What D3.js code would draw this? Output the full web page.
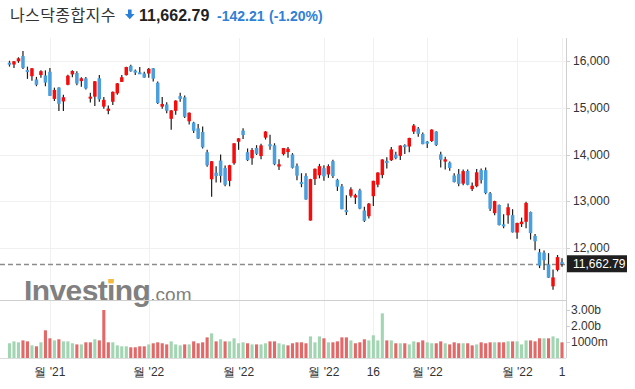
<!DOCTYPE html>
<html>
<head>
<meta charset="utf-8">
<script src="https://cdn.jsdelivr.net/npm/d3@7"></script>
<style>
  body { margin: 0; background: #fff; }
  svg { display: block; font-family: Arial, "Liberation Sans", sans-serif; }
</style>
</head>
<body>
<svg width="635" height="389"></svg>
<script>
// daily NASDAQ composite, 2021-11-17 .. 2022-05-16
const dates = [
  "2021-11-17","2021-11-18","2021-11-19","2021-11-22","2021-11-23","2021-11-24","2021-11-26","2021-11-29","2021-11-30",
  "2021-12-01","2021-12-02","2021-12-03","2021-12-06","2021-12-07","2021-12-08","2021-12-09","2021-12-10","2021-12-13","2021-12-14",
  "2021-12-15","2021-12-16","2021-12-17","2021-12-20","2021-12-21","2021-12-22","2021-12-23","2021-12-27","2021-12-28","2021-12-29",
  "2021-12-30","2021-12-31",
  "2022-01-03","2022-01-04","2022-01-05","2022-01-06","2022-01-07","2022-01-10","2022-01-11","2022-01-12","2022-01-13","2022-01-14",
  "2022-01-18","2022-01-19","2022-01-20","2022-01-21","2022-01-24","2022-01-25","2022-01-26","2022-01-27","2022-01-28","2022-01-31",
  "2022-02-01","2022-02-02","2022-02-03","2022-02-04","2022-02-07","2022-02-08","2022-02-09","2022-02-10","2022-02-11","2022-02-14",
  "2022-02-15","2022-02-16","2022-02-17","2022-02-18","2022-02-22","2022-02-23","2022-02-24","2022-02-25","2022-02-28",
  "2022-03-01","2022-03-02","2022-03-03","2022-03-04","2022-03-07","2022-03-08","2022-03-09","2022-03-10","2022-03-11","2022-03-14",
  "2022-03-15","2022-03-16","2022-03-17","2022-03-18","2022-03-21","2022-03-22","2022-03-23","2022-03-24","2022-03-25","2022-03-28",
  "2022-03-29","2022-03-30","2022-03-31",
  "2022-04-01","2022-04-04","2022-04-05","2022-04-06","2022-04-07","2022-04-08","2022-04-11","2022-04-12","2022-04-13","2022-04-14",
  "2022-04-18","2022-04-19","2022-04-20","2022-04-21","2022-04-22","2022-04-25","2022-04-26","2022-04-27","2022-04-28","2022-04-29",
  "2022-05-02","2022-05-03","2022-05-04","2022-05-05","2022-05-06","2022-05-09","2022-05-10","2022-05-11","2022-05-12","2022-05-13",
  "2022-05-16"
];
const open = [
  15965,15925,15995,16104,15806,15675,15605,15700,15690,
  15770,15190,15432,15135,15491,15714,15743,15570,15628,15200,
  15237,15629,15024,14934,15128,15308,15553,15697,15896,15794,
  15758,15733,
  15732,15844,15534,15024,15070,14763,14934,15250,15224,14710,
  14682,14559,14480,14048,13470,13610,13871,13710,13436,13812,
  14272,14512,14050,13920,14140,13967,14360,14219,14198,13743,
  14008,14052,14000,13758,13410,13542,12587,13474,13555,
  13708,13573,13858,13458,13320,12810,13118,13079,13233,12803,
  12679,13108,13354,13560,13860,13878,14000,13970,14200,14170,
  14490,14555,14440,
  14275,14289,14490,14003,13848,13827,13549,13586,13377,13647,
  13260,13322,13665,13665,13172,12745,12920,12505,12700,12703,
  12330,12510,12560,12770,12260,11910,11900,11650,11180,11531,
  11700
];
const high = [
  16005,16000,16080,16212,15880,15850,15660,15800,15800,
  15850,15430,15440,15280,15705,15800,15780,15650,15660,15320,
  15570,15700,15230,15050,15350,15530,15700,15875,15920,15820,
  15870,15770,
  15850,15850,15560,15230,15120,14950,15160,15320,15260,14900,
  14700,14650,14600,14100,13860,13750,14002,13765,13780,14240,
  14350,14560,14130,14140,14200,14230,14500,14420,14240,13900,
  14140,14160,14030,13810,13600,13600,13480,13700,13800,
  13770,13790,13890,13480,13370,13131,13300,13160,13270,12880,
  12960,13440,13620,13900,13940,14160,14060,14200,14220,14360,
  14650,14590,14470,
  14290,14540,14500,14060,13950,13850,13600,13690,13680,13680,
  13400,13690,13700,13720,13200,13010,12930,12720,12950,12830,
  12540,12650,12990,12780,12300,11980,11945,11890,11540,11850,
  11780
];
const low = [
  15880,15850,15960,15830,15618,15578,15460,15640,15460,
  15250,15144,14930,14930,15480,15650,15480,15450,15390,15110,
  15040,15130,14980,14860,15060,15280,15550,15690,15770,15700,
  15730,15640,
  15640,15560,15080,14980,14880,14530,14850,15130,14780,14640,
  14460,14330,14130,13740,13094,13400,13400,13320,13320,13780,
  14100,14330,13860,13780,13990,13900,14320,14100,13770,13670,
  13980,13930,13700,13450,13300,13030,12587,13350,13490,
  13440,13500,13500,13220,12830,12707,13080,12940,12830,12555,
  12630,12900,13300,13490,13700,13860,13900,13880,14010,14050,
  14440,14380,14220,
  14140,14270,14180,13720,13680,13650,13400,13320,13340,13340,
  13220,13300,13380,13150,12790,12700,12480,12420,12520,12330,
  12200,12450,12420,12180,11950,11570,11530,11360,11108,11500,
  11600
];
const close = [
  15921,15993,16057,15854,15775,15845,15491,15782,15538,
  15254,15381,15085,15225,15686,15786,15517,15630,15413,15237,
  15566,15180,15169,14981,15341,15522,15653,15871,15781,15766,
  15741,15645,
  15833,15623,15100,15081,14936,14943,15153,15188,14807,14894,
  14507,14341,14155,13769,13856,13540,13542,13353,13771,14240,
  14346,14417,13879,14098,14015,14195,14491,14186,13791,13791,
  14139,14124,13716,13548,13381,13037,13474,13695,13751,
  13533,13752,13538,13313,12830,12796,13255,13130,12843,12581,
  12949,13437,13614,13894,13838,14109,13923,14191,14169,14354,
  14619,14443,14221,
  14262,14532,14204,13888,13897,13711,13411,13372,13644,13351,
  13332,13619,13453,13175,12839,13004,12491,12489,12872,12335,
  12536,12564,12965,12318,12145,11623,11738,11365,11371,11805,
  11662.79
];
// volume, billions
const volume = [
  0.92,1.04,0.98,1.10,1.04,0.79,0.73,0.98,1.73,1.23,1.10,1.17,1.04,1.04,0.92,0.85,0.85,0.98,0.98,1.17,
  1.10,3.00,0.98,0.98,0.79,0.73,0.73,0.67,0.67,0.73,0.73,0.85,0.92,0.98,0.92,0.85,1.04,0.85,0.79,0.85,
  0.85,1.04,0.92,0.98,1.29,1.54,1.04,1.17,1.04,1.04,1.23,0.92,0.98,0.92,0.85,0.85,0.85,0.92,1.04,1.04,
  0.92,0.85,0.79,0.92,0.98,0.98,0.92,1.35,0.98,1.35,1.23,0.98,0.98,1.04,1.29,1.29,1.10,0.92,0.98,1.17,
  1.10,1.42,1.10,2.79,1.10,1.10,0.92,0.92,0.92,0.85,1.04,0.98,1.10,0.98,0.92,0.92,1.04,0.92,0.85,0.98,
  0.92,0.92,0.92,0.79,0.85,0.98,0.92,0.98,0.98,0.98,0.98,1.04,1.04,1.04,0.85,1.10,1.10,1.04,1.23,1.23,
  1.23,1.35,1.23,0.98
];
const priceTicks = [12000, 13000, 14000, 15000, 16000];
const volTicks = [1, 2, 3];
const volTickLabels = ["1000m", "2.00b", "3.00b"];
const xTickDates = ["2021-12-01","2022-01-03","2022-02-01","2022-03-01","2022-03-16","2022-04-01","2022-05-02","2022-05-16"];
const xTickLabels = ["월 '21","월 '22","월 '22","월 '22","16","월 '22","월 '22","1"];
const lastPrice = 11662.79;

const svg = d3.select('svg');
const plotRight = 566;
const paneTop = 38, paneBottom = 300, volBottom = 358;

const x = d3.scaleBand().domain(dates).range([6.75, 564.75]).padding(0.22);
const y = d3.scaleLinear().domain([12000, 16000]).range([248, 61]);
const yv = d3.scaleLinear().domain([0, 3]).range([volBottom, 310]);

const cx = d => x(d) + x.bandwidth() / 2;

// grid
const grid = svg.append('g');
grid.selectAll('.vg').data(xTickDates).enter().append('line')
  .attr('x1', d => Math.round(cx(d)) + 0.5).attr('x2', d => Math.round(cx(d)) + 0.5)
  .attr('y1', paneTop).attr('y2', volBottom)
  .attr('stroke', '#f0f0f0');
grid.selectAll('.hg').data(priceTicks).enter().append('line')
  .attr('x1', 0).attr('x2', plotRight)
  .attr('y1', d => Math.round(y(d)) + 0.5).attr('y2', d => Math.round(y(d)) + 0.5)
  .attr('stroke', '#f0f0f0');

// watermark
const wm = svg.append('text')
  .attr('x', 24).attr('y', 301)
  .attr('fill', '#808080')
  .style('font-family', 'Arial, "Liberation Sans", sans-serif');
wm.append('tspan').text('Investing').attr('font-weight', 'bold').attr('font-size', 30).attr('letter-spacing', -0.6);
wm.append('tspan').text('.com').attr('font-size', 19);
const iExt = wm.node().getExtentOfChar(6);
svg.append('rect')
  .attr('x', iExt.x + iExt.width / 2 - 2.7).attr('y', 279)
  .attr('width', 5.4).attr('height', 4.4)
  .attr('fill', '#f6b93b');

// panes borders
svg.append('line').attr('x1', 0).attr('x2', plotRight).attr('y1', paneBottom + 0.5).attr('y2', paneBottom + 0.5)
  .attr('stroke', '#cfcfcf');
svg.append('line').attr('x1', 0).attr('x2', plotRight).attr('y1', volBottom + 0.5).attr('y2', volBottom + 0.5)
  .attr('stroke', '#dcdcdc');
svg.append('line').attr('x1', plotRight + 0.5).attr('x2', plotRight + 0.5).attr('y1', paneTop).attr('y2', volBottom)
  .attr('stroke', '#cfcfcf');

// last price dashed line
svg.append('line')
  .attr('x1', 0).attr('x2', plotRight)
  .attr('y1', Math.round(y(lastPrice)) + 0.5).attr('y2', Math.round(y(lastPrice)) + 0.5)
  .attr('stroke', '#8c8c8c').attr('stroke-width', 1.5).attr('stroke-dasharray', '5,3');

// candles
const idx = d3.range(dates.length);
const candles = svg.append('g').selectAll('g').data(idx).enter().append('g');
candles.append('line')
  .attr('x1', i => cx(dates[i])).attr('x2', i => cx(dates[i]))
  .attr('y1', i => y(high[i])).attr('y2', i => y(low[i]))
  .attr('stroke', '#1e1e1e').attr('stroke-width', 1.2);
candles.append('rect')
  .attr('x', i => x(dates[i]))
  .attr('width', x.bandwidth())
  .attr('y', i => y(Math.max(open[i], close[i])))
  .attr('height', i => Math.max(2, Math.abs(y(open[i]) - y(close[i]))))
  .attr('fill', i => close[i] >= open[i] ? '#f50d0d' : '#4b9fdc');

// volume
svg.append('g').selectAll('rect').data(idx).enter().append('rect')
  .attr('x', i => x(dates[i]) + 0.2)
  .attr('width', x.bandwidth() - 0.4)
  .attr('y', i => yv(volume[i]))
  .attr('height', i => volBottom - yv(volume[i]))
  .attr('fill', i => (i === 0 || close[i] >= close[i - 1]) ? '#a2d5b2' : '#e36868');

// price axis
const ya = svg.append('g');
ya.selectAll('line').data(priceTicks).enter().append('line')
  .attr('x1', plotRight).attr('x2', plotRight + 4)
  .attr('y1', d => Math.round(y(d)) + 0.5).attr('y2', d => Math.round(y(d)) + 0.5)
  .attr('stroke', '#cfcfcf');
ya.selectAll('text').data(priceTicks).enter().append('text')
  .attr('x', 573).attr('y', d => y(d)).attr('dy', '0.35em')
  .attr('font-size', 12).attr('fill', '#333')
  .text(d => d3.format(',')(d));

// last price tag
svg.append('rect').attr('x', 567).attr('y', y(lastPrice) - 8.5).attr('width', 60).attr('height', 17).attr('fill', '#1f1f1f');
svg.append('text').attr('x', 573).attr('y', y(lastPrice)).attr('dy', '0.36em')
  .attr('font-size', 12).attr('fill', '#fff').text(d3.format(',.2f')(lastPrice));

// volume axis
const va = svg.append('g');
va.selectAll('line').data(volTicks).enter().append('line')
  .attr('x1', plotRight).attr('x2', plotRight + 4)
  .attr('y1', d => Math.round(yv(d)) + 0.5).attr('y2', d => Math.round(yv(d)) + 0.5)
  .attr('stroke', '#cfcfcf');
va.selectAll('text').data(volTicks).enter().append('text')
  .attr('x', 571).attr('y', d => yv(d)).attr('dy', '0.35em')
  .attr('font-size', 12).attr('fill', '#333')
  .text((d, i) => volTickLabels[i]);

// x labels
svg.append('g').selectAll('text').data(xTickDates).enter().append('text')
  .attr('x', d => cx(d)).attr('y', 376)
  .attr('text-anchor', 'middle').attr('font-size', 12).attr('fill', '#333')
  .text((d, i) => xTickLabels[i]);

// title
svg.append('text').attr('x', 10).attr('y', 21)
  .style('font-family', '"Noto Sans CJK KR", sans-serif')
  .attr('font-size', 16).attr('letter-spacing', 0.4).attr('fill', '#333').text('나스닥종합지수');
svg.append('path')
  .attr('d', 'M128,9.5 h3.6 v4.5 h3 l-4.8,5.3 l-4.8,-5.3 h3 z')
  .attr('fill', '#2a7fd8');
svg.append('text').attr('x', 139).attr('y', 21)
  .attr('font-size', 16).attr('font-weight', 'bold').attr('fill', '#222')
  .text(d3.format(',.2f')(lastPrice));
svg.append('text').attr('x', 217).attr('y', 21)
  .attr('font-size', 14).attr('font-weight', 'bold').attr('fill', '#2f80d6')
  .text('-142.21');
svg.append('text').attr('x', 269).attr('y', 21)
  .attr('font-size', 14).attr('font-weight', 'bold').attr('fill', '#2f80d6')
  .text('(-1.20%)');
</script>
</body>
</html>
